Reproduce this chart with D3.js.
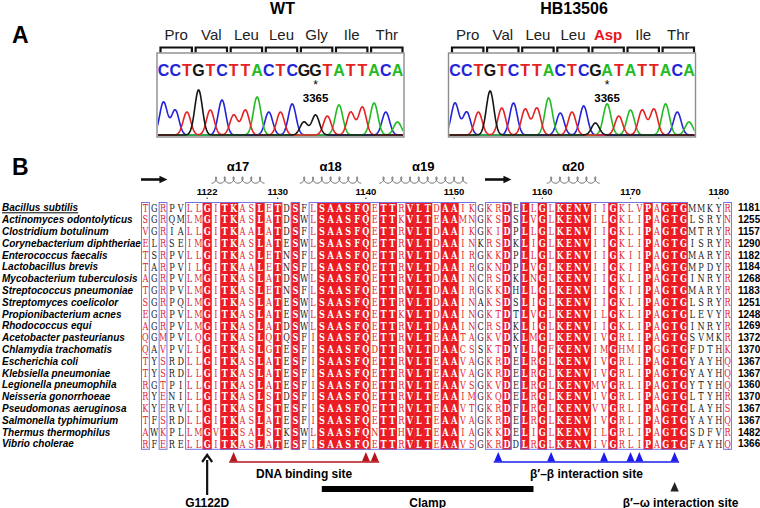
<!DOCTYPE html>
<html>
<head>
<meta charset="utf-8">
<title>rpoC G1122D: traces and beta' alignment</title>
<script src="https://d3js.org/d3.v7.min.js"></script>
<style>
  body { margin: 0; padding: 0; background: #fff; }
  svg { display: block; font-family: "Liberation Sans", Arial, sans-serif; }
</style>
</head>
<body>
<script>
// ---- panel A : sequencing traces
var wtBases  = "CCTGTCTTACTCGGTATTACA".split("");
var mutBases = "CCTGTCTTACTCGATATTACA".split("");
var wtCodons  = ["Pro", "Val", "Leu", "Leu", "Gly", "Ile", "Thr"];
var mutCodons = ["Pro", "Val", "Leu", "Leu", "Asp", "Ile", "Thr"];
// peak height of every called base
var wtPeaks  = [33, 25, 23, 45, 25, 35, 20, 25, 38, 23, 23, 31, 13, 20, 19, 30, 23, 28, 32, 23, 13];
var mutPeaks = [32, 23, 23, 44, 27, 32, 26, 27, 37, 22, 23, 29, 12, 31, 19, 25, 25, 26, 31, 23, 13];
var siteIndex = 13;
var siteLabel = "3365";

// ---- panel B : beta' alignment
var species = [
  "Bacillus subtilis", "Actinomyces odontolyticus", "Clostridium botulinum",
  "Corynebacterium diphtheriae", "Enterococcus faecalis", "Lactobacillus brevis",
  "Mycobacterium tuberculosis", "Streptococcus pneumoniae", "Streptomyces coelicolor",
  "Propionibacterium acnes", "Rhodococcus equi", "Acetobacter pasteurianus",
  "Chlamydia trachomatis", "Escherichia coli", "Klebsiella pneumoniae",
  "Legionella pneumophila", "Neisseria gonorrhoeae", "Pseudomonas aeruginosa",
  "Salmonella typhimurium", "Thermus thermophilus", "Vibrio cholerae"
];
var sequences = [
  "TGRPVLLGITKASLETDSFLSAASFQETTRVLTDAAIKGKRDELLGLKENVIIGKLVPAGTGMMKYR",
  "SGRQMLMGITKASLATDSWLSAASFQETTKVLTEAAMNGKSDSLVGLKENVILGKLIPAGTGLSRYN",
  "VGRIALLGITKAALATDSFLSAASFQETTRVLTDAAIKGKIDPLLGLKENVIIGKLIPAGTGMTRYR",
  "ELRSEIMGITKASLATESWLSAASFQETTRVLTDAAINKRSDKLIGLKENVIIGKLIPAGTGISRYR",
  "TSRPVLLGITKASLETNSFLSAASFQETTRVLTDAAIRGKKDPLLGLKENVIIGKIIPAGTGMARYR",
  "TARPVILGITKAALETNSFLSAASFQETTRVLTDAAIRGKNDPLVGLKENVIIGKIIPAGTGMPDYR",
  "AGRPVLMGITKASLATDSWLSAASFQETTRVLTDAAINCRSDKLNGLKENVIIGKLIPAGTGINRYR",
  "TGRPVLMGITKASLETNSFLSAASFQETTRVLTDAAIRGKKDHLLGLKENVIIGKIIPAGTGMARYR",
  "SGRPQLMGITKASLATESWLSAASFQETTRVLTDAAINAKSDSLIGLKENVIIGKLIPAGTGLSRYR",
  "EGRPVLMGITKASLATESWLSAASFQETTKVLTDAAINGKTDTLVGLKENVILGKLIPAGTGLEVYR",
  "AGRPVLMGITKASLATDSWLSAASFQETTRVLTDAAINCRSDKLIGLKENVIIGKLIPAGTGINRYR",
  "QGMPVLQGITKASLQTQSFISAASFQETTRVLTEAATAGKVDKLMGLKENVIVGRLIPAGTGSVMKR",
  "QAVPVLLGITKASLGTESFISAASFQDTTRVLTDAACSSKTDYLLGFKENVIMGHMIPGGTGFDTHK",
  "TYSRDLLGITKASLATESFISAASFQETTRVLTEAAVAGKRDELRGLKENVIVGRLIPAGTGYAYHQ",
  "TYSRDLLGITKASLATESFISAASFQETTRVLTEAAVAGKRDELRGLKENVIVGRLIPAGTGYAYHQ",
  "RGTPILLGITKASLATESFISAASFQETTRVLTEAAVSGKVDELRGLKENVMVGRLIPAGTGYTYHQ",
  "RYENILLGITKASLSTDSFISAASFQETTRVLTEAAIMGKQDELRGLKENVIVGRLIPAGTGLTYHR",
  "KYERVLLGITKASLSTESFISAASFQETTRVLTEAAVTGKRDFLRGLKENVVVGRLIPAGTGLAYHS",
  "TFSRDLLGITKASLATESFISAASFQETTRVLTEAAVAGKRDELRGLKENVIVGRLIPAGTGYAYHQ",
  "AWKPLLMGVTKSALSTKSWLSAASFQNTTHVLTEAAIAGKKDELIGLKENVILGRLIPAGTGSDFVR",
  "RFERELLGITKASLATESFISAASFQETTRVLTEAAVSGKRDDLRGLKENVIVGRLIPAGTGFAYHQ"
];
var endNumbers = [1181, 1255, 1157, 1290, 1182, 1184, 1268, 1183, 1251, 1248, 1269,
                  1372, 1370, 1367, 1367, 1360, 1370, 1367, 1367, 1482, 1366];
var firstResidue = 1115;
var tickResidues = [1122, 1130, 1140, 1150, 1160, 1170, 1180];
var helixNames  = ["α17", "α18", "α19", "α20"];
var helixRanges = [[1123, 1128], [1133, 1139], [1142, 1151], [1161, 1166]];
var strandRanges = [[1115, 1118], [1154, 1157]];
// columns boxed in blue (similar residues)
var similarBlocks = [[1115, 1115], [1117, 1117], [1120, 1130], [1132, 1132],
                     [1134, 1152], [1154, 1156], [1158, 1176], [1181, 1181]];
var dnaSites  = [1125, 1140, 1141];
var betaSites = [1155, 1161, 1167, 1170, 1171, 1175];
var omegaSite = 1175;
var clampRange = [1135, 1159];
var mutationResidue = 1122;
var mutationLabel = "G1122D";

var svg = d3.select("body").append("svg")
    .attr("width", 760)
    .attr("height", 508);

var baseColour = { A: "#22bb22", C: "#2323d8", G: "#151515", T: "#e42222" };

svg.append("text").attr("x", 12).attr("y", 43)
    .attr("font-size", 23).attr("font-weight", "bold").text("A");
svg.append("text").attr("x", 12).attr("y", 175)
    .attr("font-size", 23).attr("font-weight", "bold").text("B");

function drawTrace(left, title, bases, codons, peaks, changed) {
    var g = svg.append("g");
    var pitch = 11.7, boxW = 247, boxTop = 53, boxBottom = 137;
    var bx = d3.scaleLinear()
        .domain([0, bases.length - 1])
        .range([left + 6.5, left + 6.5 + (bases.length - 1) * pitch]);
    var py = d3.scaleLinear().domain([0, 50]).range([135, 85]);

    g.append("text")
        .attr("x", left + boxW / 2 + 2).attr("y", 14)
        .attr("text-anchor", "middle")
        .attr("font-size", 16).attr("font-weight", "bold")
        .text(title);

    // codon brackets + names
    codons.forEach(function(c, i) {
        var x1 = bx(3 * i) - 3, x2 = bx(3 * i + 2) + 5;
        g.append("path")
            .attr("d", "M" + x1 + ",52.5V47.5H" + x2 + "V52.5")
            .attr("fill", "none").attr("stroke", "#111").attr("stroke-width", 2.2);
        g.append("text")
            .attr("x", (x1 + x2) / 2).attr("y", 40)
            .attr("text-anchor", "middle")
            .attr("font-size", 15)
            .attr("font-weight", i === changed ? "bold" : "normal")
            .attr("fill", i === changed ? "#e8141c" : "#222")
            .text(c);
    });

    g.append("rect")
        .attr("x", left).attr("y", boxTop)
        .attr("width", boxW).attr("height", boxBottom - boxTop)
        .attr("fill", "#fff").attr("stroke", "#8c8c8c").attr("stroke-width", 1.4);

    var clipId = "clip" + title;
    g.append("clipPath").attr("id", clipId)
      .append("rect")
        .attr("x", left + 1).attr("y", boxTop)
        .attr("width", boxW - 2).attr("height", boxBottom - boxTop - 1);

    // one trace per channel: a bump at every base of that colour
    var ts = d3.range(-1, bases.length, 0.04);
    ["C", "A", "T", "G"].forEach(function(ch) {
        var pts = ts.map(function(t) {
            var v = 0;
            bases.forEach(function(b, i) {
                if (b === ch) v += peaks[i] * Math.exp(-Math.pow(t - i, 2) / 0.21);
            });
            return [bx(t), py(v)];
        });
        g.append("path")
            .attr("d", d3.line()(pts))
            .attr("fill", "none")
            .attr("stroke", baseColour[ch])
            .attr("stroke-width", 1.6)
            .attr("clip-path", "url(#" + clipId + ")");
    });

    g.selectAll("text.base")
        .data(bases)
        .enter().append("text")
        .attr("class", "base")
        .attr("x", function(d, i) { return bx(i); })
        .attr("y", 76)
        .attr("text-anchor", "middle")
        .attr("font-size", 16).attr("font-weight", "bold")
        .attr("fill", function(d) { return baseColour[d]; })
        .text(function(d) { return d; });

    g.append("text")
        .attr("x", bx(siteIndex)).attr("y", 88.5)
        .attr("text-anchor", "middle").attr("font-size", 12)
        .text("*");
    g.append("text")
        .attr("x", bx(siteIndex)).attr("y", 102)
        .attr("text-anchor", "middle").attr("font-size", 11.5).attr("font-weight", "bold")
        .text(siteLabel);
}

drawTrace(157, "WT", wtBases, wtCodons, wtPeaks, -1);
drawTrace(448.5, "HB13506", mutBases, mutCodons, mutPeaks, 4);

// ---------------- panel B ----------------
var nCol = sequences[0].length;
var residues = d3.range(firstResidue, firstResidue + nCol);
var colX = d3.scaleBand().domain(residues).range([141, 141 + nCol * 8.82]);
var rowY = d3.scaleBand().domain(d3.range(species.length)).range([202, 202 + species.length * 11.8]);
var cw = colX.bandwidth(), rh = rowY.bandwidth();
var alignTop = rowY.range()[0], alignBottom = rowY.range()[1];
var cx = function(r) { return colX(r) + cw / 2; };

var identical = residues.map(function(r, j) {
    return sequences.every(function(s) { return s[j] === sequences[0][j]; });
});
var framed = residues.map(function(r) {
    return similarBlocks.some(function(b) { return r >= b[0] && r <= b[1]; });
});

var red = "#ec1c24";
var B = svg.append("g");

// red columns
B.selectAll("rect.cons")
    .data(residues.filter(function(r, j) { return identical[j]; }))
    .enter().append("rect")
    .attr("class", "cons")
    .attr("x", function(r) { return colX(r) - 0.2; })
    .attr("y", alignTop)
    .attr("width", cw + 0.4)
    .attr("height", alignBottom - alignTop)
    .attr("fill", red);

// residues
sequences.forEach(function(seq, i) {
    B.append("g").selectAll("text")
        .data(seq.split(""))
        .enter().append("text")
        .attr("transform", function(d, j) {
            return "translate(" + cx(residues[j]) + "," + (rowY(i) + 9.6) + ") scale(0.74,1)";
        })
        .attr("text-anchor", "middle")
        .attr("font-family", '"DejaVu Serif", serif')
        .attr("font-size", 11)
        .attr("font-weight", function(d, j) { return identical[j] ? "bold" : "normal"; })
        .attr("fill", function(d, j) {
            return identical[j] ? "#fff" : (framed[j] ? "#e4252b" : "#222");
        })
        .text(function(d) { return d; });
});

// blue frames
B.selectAll("rect.frame")
    .data(similarBlocks)
    .enter().append("rect")
    .attr("class", "frame")
    .attr("x", function(b) { return colX(b[0]) + 0.5; })
    .attr("y", alignTop + 0.5)
    .attr("width", function(b) { return colX(b[1]) + cw - colX(b[0]) - 1; })
    .attr("height", alignBottom - alignTop - 1)
    .attr("fill", "none")
    .attr("stroke", "#7474e4")
    .attr("stroke-width", 1);

// species names and end numbers
B.selectAll("text.sp")
    .data(species)
    .enter().append("text")
    .attr("class", "sp")
    .attr("x", 2)
    .attr("y", function(d, i) { return rowY(i) + 9.3; })
    .attr("font-size", 10).attr("font-weight", "bold").attr("font-style", "italic")
    .attr("text-decoration", function(d, i) { return i === 0 ? "underline" : null; })
    .text(function(d) { return d; });

B.selectAll("text.num")
    .data(endNumbers)
    .enter().append("text")
    .attr("class", "num")
    .attr("x", 738)
    .attr("y", function(d, i) { return rowY(i) + 9.3; })
    .attr("font-size", 10).attr("font-weight", "bold")
    .text(function(d) { return d; });

// numbering
B.selectAll("text.tick")
    .data(tickResidues)
    .enter().append("text")
    .attr("class", "tick")
    .attr("x", cx).attr("y", 195)
    .attr("text-anchor", "middle")
    .attr("font-size", 9.5).attr("font-weight", "bold")
    .text(function(d) { return d; });
B.selectAll("circle.tick")
    .data(tickResidues)
    .enter().append("circle")
    .attr("cx", cx).attr("cy", 198.3).attr("r", 0.7).attr("fill", "#222");

// secondary structure
function helixPath(x1, x2, yc) {
    var n = Math.max(1, Math.round((x2 - x1) / 8.6));
    var a = (x2 - x1) / n / (2 * Math.PI), b = 2.3, c = 3.2;
    var pts = d3.range(-Math.PI, 2 * Math.PI * n - Math.PI + 0.01, 0.1).map(function(t) {
        return [x1 + a * Math.PI + a * t - b * Math.sin(t), yc - c * Math.cos(t)];
    });
    return d3.line()(pts);
}
helixRanges.forEach(function(h, k) {
    var x1 = colX(h[0]), x2 = colX(h[1]) + cw;
    B.append("path")
        .attr("d", helixPath(x1, x2, 180))
        .attr("fill", "none").attr("stroke", "#555").attr("stroke-width", 0.9);
    B.append("text")
        .attr("x", (x1 + x2) / 2).attr("y", 171)
        .attr("text-anchor", "middle")
        .attr("font-size", 13).attr("font-weight", "bold")
        .text(helixNames[k]);
});
strandRanges.forEach(function(s) {
    var x1 = colX(s[0]), x2 = colX(s[1]);
    B.append("line")
        .attr("x1", x1).attr("x2", x2 - 6).attr("y1", 179.5).attr("y2", 179.5)
        .attr("stroke", "#111").attr("stroke-width", 2.6);
    B.append("path")
        .attr("d", "M" + x2 + ",179.5L" + (x2 - 8) + ",175.8L" + (x2 - 8) + ",183.2Z")
        .attr("fill", "#111");
});

// ---- annotations under the alignment
function tri(x, top, bottom, half) {
    return "M" + x + "," + top + "L" + (x + half) + "," + bottom + "L" + (x - half) + "," + bottom + "Z";
}
function siteGroup(sites, colour, label) {
    var x1 = cx(sites[0]) - 4.5, x2 = cx(sites[sites.length - 1]) + 4.5;
    B.append("line")
        .attr("x1", x1).attr("x2", x2).attr("y1", 462).attr("y2", 462)
        .attr("stroke", colour).attr("stroke-width", 1.5);
    B.selectAll(null).data(sites).enter().append("path")
        .attr("d", function(r) { return tri(cx(r), 452, 461.5, 4); })
        .attr("fill", colour);
    B.append("text")
        .attr("x", (x1 + x2) / 2).attr("y", 478)
        .attr("text-anchor", "middle")
        .attr("font-size", 12).attr("font-weight", "bold")
        .text(label);
}
siteGroup(dnaSites, "#b3161c", "DNA binding site");
siteGroup(betaSites, "#1c1cee", "β′–β interaction site");

// mutation arrow
var mx = cx(mutationResidue);
B.append("line")
    .attr("x1", mx).attr("x2", mx).attr("y1", 495).attr("y2", 460)
    .attr("stroke", "#111").attr("stroke-width", 2.2);
B.append("path")
    .attr("d", "M" + (mx - 5) + ",462L" + mx + ",455L" + (mx + 5) + ",462")
    .attr("fill", "none").attr("stroke", "#111").attr("stroke-width", 2.2);
B.append("text")
    .attr("x", mx).attr("y", 507)
    .attr("text-anchor", "middle").attr("font-size", 12).attr("font-weight", "bold")
    .text(mutationLabel);

// clamp
var c1 = cx(clampRange[0]), c2 = cx(clampRange[1]);
B.append("rect")
    .attr("x", c1).attr("y", 486).attr("width", c2 - c1).attr("height", 6)
    .attr("fill", "#000");
B.append("text")
    .attr("x", (c1 + c2) / 2).attr("y", 507)
    .attr("text-anchor", "middle").attr("font-size", 12).attr("font-weight", "bold")
    .text("Clamp");

// beta'-omega
var ox = cx(omegaSite);
B.append("path").attr("d", tri(ox, 482, 491.5, 4.2)).attr("fill", "#222");
B.append("text")
    .attr("x", ox + 6).attr("y", 507)
    .attr("text-anchor", "middle").attr("font-size", 12).attr("font-weight", "bold")
    .text("β′–ω interaction site");
</script>
</body>
</html>
